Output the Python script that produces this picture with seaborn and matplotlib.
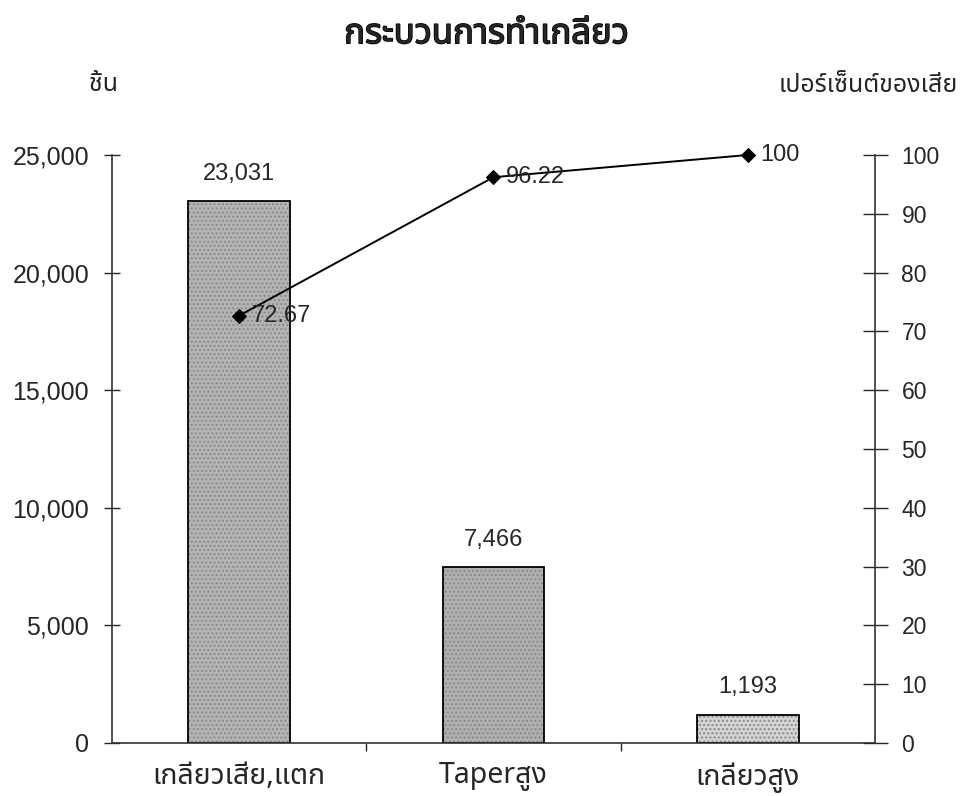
import numpy as np
import matplotlib
matplotlib.use("Agg")
import matplotlib.pyplot as plt
import matplotlib.patheffects as pe
import seaborn as sns
import pandas as pd
from matplotlib import font_manager
from matplotlib.ft2font import FT2Font

# Defect counts in the thread-making process (Pareto)
categories = ["เกลียวเสีย,แตก", "Taperสูง", "เกลียวสูง"]
counts = [23031, 7466, 1193]
count_labels = ["23,031", "7,466", "1,193"]
cum_percent = [72.67, 96.22, 100]
cum_labels = ["72.67", "96.22", "100"]
left_ticks = [0, 5000, 10000, 15000, 20000, 25000]
right_ticks = [0, 10, 20, 30, 40, 50, 60, 70, 80, 90, 100]

title_text = "กระบวนการทำเกลียว"
left_unit = "ชิ้น"
right_unit = "เปอร์เซ็นต์ของเสีย"


def thai_family():
    """Return the name of an installed font that covers Thai script."""
    seen = set()
    found = []
    for f in font_manager.fontManager.ttflist:
        if f.fname in seen:
            continue
        seen.add(f.fname)
        try:
            cmap = FT2Font(f.fname).get_charmap()
        except Exception:
            continue
        if 0x0E01 in cmap and 0x0E35 in cmap and 0x0041 in cmap:
            found.append(f.name)
    for pref in ["Noto Sans Thai", "Noto Sans Thai UI", "Loma", "Garuda",
                 "Tlwg Typo", "Norasi", "Sarabun"]:
        if pref in found:
            return pref
    return found[0] if found else "DejaVu Sans"


sns.set_theme(style="white")
thai = thai_family()
plt.rcParams["font.family"] = ["Liberation Sans", thai, "DejaVu Sans"]
num_font = ["Liberation Sans", "DejaVu Sans"]
thai_font = [thai, "Liberation Sans", "DejaVu Sans"]

df = pd.DataFrame({"category": categories, "count": counts})
bar_colors = ["#b4b4b4", "#b0b0b0", "#d4d4d4"]

fig = plt.figure(figsize=(9.61, 7.96), dpi=100)
ax = fig.add_axes([0.1165, 0.0666, 0.794, 0.7387])

sns.barplot(data=df, x="category", y="count", hue="category",
            palette=bar_colors, legend=False, width=0.4,
            edgecolor="black", linewidth=1.3, ax=ax)
for patch in ax.patches:
    patch.set_hatch("....")
    patch._hatch_color = matplotlib.colors.to_rgba("#8a8a8a")
plt.rcParams["hatch.linewidth"] = 0.6

ax.set_xlim(-0.5, len(categories) - 0.5)
ax.set_ylim(0, 25000)
ax.set_yticks(left_ticks)
ax.set_yticklabels([f"{v:,}" for v in left_ticks], fontsize=18, family=num_font)
ax.tick_params(axis="y", direction="inout", length=11, width=1, pad=11, left=True)

ax.set_xticks(range(len(categories)))
ax.set_xticklabels(categories, fontsize=20.5, family=thai_font)
ax.tick_params(axis="x", length=0, pad=14)
ax.set_xticks([i + 0.5 for i in range(len(categories) - 1)], minor=True)
ax.tick_params(axis="x", which="minor", direction="out", length=6, width=1,
               bottom=True)
ax.set_xlabel("")
ax.set_ylabel("")

for s in ["top", "right"]:
    ax.spines[s].set_visible(False)
for s in ["left", "bottom"]:
    ax.spines[s].set_color("#333333")
    ax.spines[s].set_linewidth(1.2)

for i, (v, lab) in enumerate(zip(counts, count_labels)):
    ax.annotate(lab, (i, v), xytext=(0, 12), textcoords="offset points",
                ha="center", va="bottom", fontsize=17, family=num_font)

ax2 = ax.twinx()
ax2.set_position(ax.get_position())
sns.lineplot(x=list(range(len(categories))), y=cum_percent, ax=ax2,
             color="black", linewidth=1.4, marker="D", markersize=7,
             markeredgecolor="black", clip_on=False)
ax2.set_ylim(0, 100)
ax2.set_yticks(right_ticks)
ax2.set_yticklabels([str(v) for v in right_ticks], fontsize=16.5, family=num_font)
ax2.tick_params(axis="y", direction="inout", length=18, width=1, pad=10,
                right=True)
for s in ["top", "left", "bottom"]:
    ax2.spines[s].set_visible(False)
ax2.spines["right"].set_color("#333333")
ax2.spines["right"].set_linewidth(1.2)
ax2.set_xlim(-0.5, len(categories) - 0.5)

for i, (v, lab) in enumerate(zip(cum_percent, cum_labels)):
    ax2.annotate(lab, (i, v), xytext=(9, 0), textcoords="offset points",
                 ha="left", va="center", fontsize=17, family=num_font,
                 annotation_clip=False)

fig.text(0.506, 0.957, title_text, ha="center", va="center", fontsize=25,
         fontweight="bold", family=thai_font,
         path_effects=[pe.withStroke(linewidth=1.1, foreground="black")])
fig.text(0.108, 0.894, left_unit, ha="center", va="center", fontsize=18,
         family=thai_font)
fig.text(0.997, 0.893, right_unit, ha="right", va="center", fontsize=18,
         family=thai_font)

fig.savefig("out.png", dpi=100)
